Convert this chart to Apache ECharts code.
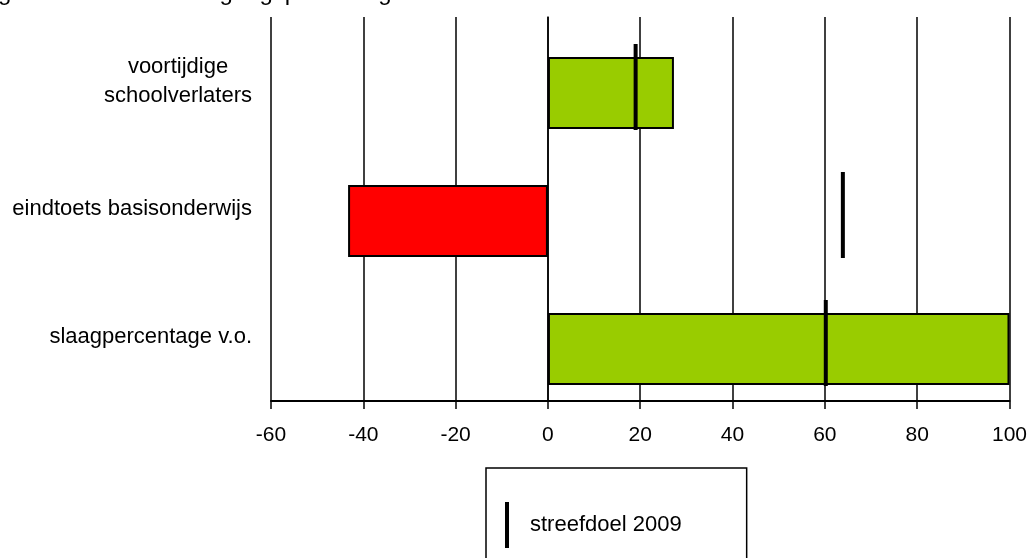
<!DOCTYPE html>
<html>
<head>
<meta charset="utf-8">
<script src="https://cdn.jsdelivr.net/npm/echarts@6/dist/echarts.min.js"></script>
<style>
  html, body { margin: 0; padding: 0; background: #fff; }
  #chart { width: 1030px; height: 558px; }
</style>
</head>
<body>
<div id="chart"></div>
<script>
// Indicators, top to bottom
const categories = ['voortijdige\nschoolverlaters', 'eindtoets basisonderwijs', 'slaagpercentage v.o.'];
// Progress per indicator (percent)
const progress = [27.3, -43.3, 100];
const barColors = ['#99cc00', '#ff0000', '#99cc00'];
// Target for 2009 per indicator
const target2009 = [19.0, 63.9, 60.2];
const targetName = 'streefdoel 2009';
const xTicks = { min: -60, max: 100, interval: 20 };
const titleText = 'Figuur 5: Actuele voortgangspercentages van de doelen.';

const FONT = '"Liberation Sans", Arial, sans-serif';

const chart = echarts.init(document.getElementById('chart'), null, { renderer: 'canvas' });

chart.setOption({
  animation: false,
  backgroundColor: '#ffffff',
  textStyle: { fontFamily: FONT, color: '#000' },
  graphic: [{
    type: 'text',
    left: -22,
    top: -19,
    style: { text: titleText, font: '24px ' + FONT, fill: '#000' }
  }],
  grid: { left: 271, right: 20, top: 17, bottom: 157, containLabel: false },
  legend: {
    data: [targetName],
    left: 486,
    top: 468,
    orient: 'vertical',
    icon: 'rect',
    itemWidth: 4,
    itemHeight: 46,
    padding: [34, 65, 30, 19],
    borderColor: '#000',
    borderWidth: 1.5,
    selectedMode: false,
    textStyle: { fontSize: 22, fontFamily: FONT, color: '#000', padding: [26, 0, 0, 16] }
  },
  xAxis: {
    type: 'value',
    min: xTicks.min,
    max: xTicks.max,
    interval: xTicks.interval,
    axisLine: { show: true, onZero: false, lineStyle: { color: '#000', width: 2 } },
    axisTick: { show: true, length: 8, lineStyle: { color: '#000', width: 1.5 } },
    axisLabel: { margin: 24, fontSize: 21, fontFamily: FONT, color: '#000' },
    splitLine: { show: true, lineStyle: { color: '#000', width: 1.5 } }
  },
  yAxis: {
    type: 'category',
    data: categories,
    inverse: true,
    axisLine: { show: true, lineStyle: { color: '#000', width: 1.5 } },
    axisTick: { show: false },
    splitLine: { show: false },
    axisLabel: {
      margin: 19,
      color: '#000',
      formatter: function (v) {
        return v.split('\n').map(function (s) { return '{c|' + s + '}'; }).join('\n');
      },
      rich: {
        c: { fontSize: 22, fontFamily: FONT, color: '#000', align: 'center', lineHeight: 29 }
      }
    }
  },
  series: [
    {
      // empty slot ahead of the progress bars so they sit in the lower part of each band
      name: 'slot',
      type: 'bar',
      barWidth: 4,
      barGap: '500%',
      data: categories.map(function () { return '-'; }),
      silent: true
    },
    {
      name: 'voortgang',
      type: 'bar',
      barWidth: 72,
      barGap: '500%',
      data: progress.map(function (v, i) {
        return { value: v, itemStyle: { color: barColors[i] } };
      }),
      itemStyle: { borderColor: '#000', borderWidth: 2 },
      z: 2
    },
    {
      name: targetName,
      type: 'scatter',
      symbol: 'rect',
      symbolSize: [4, 86],
      symbolOffset: [0, 6],
      itemStyle: { color: '#000', opacity: 1 },
      data: target2009.map(function (v, i) { return [v, i]; }),
      z: 3
    }
  ]
});
</script>
</body>
</html>
